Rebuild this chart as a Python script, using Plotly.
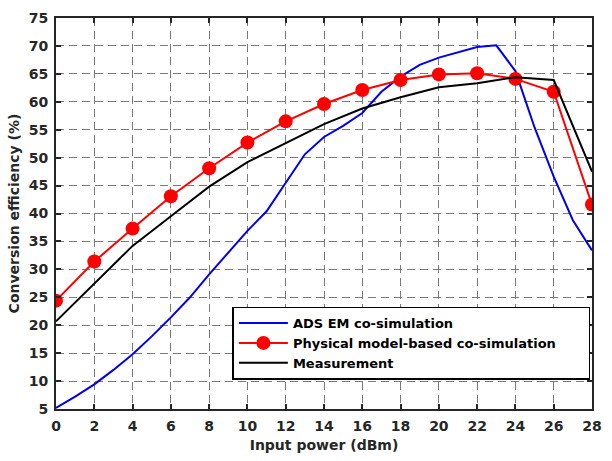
import plotly.graph_objects as go

x_blue = list(range(0, 29))
y_blue = [5.2, 7.2, 9.4, 12.0, 14.8, 18.0, 21.4, 25.0, 29.1, 33.0, 36.9, 40.4, 45.4, 50.6,
          53.7, 55.7, 58.0, 61.8, 64.5, 66.6, 67.9, 68.9, 69.8, 70.1, 65.5, 55.4, 46.6, 38.8, 33.4]

x_even = list(range(0, 29, 2))
y_red = [24.4, 31.4, 37.3, 43.1, 48.1, 52.7, 56.5, 59.6, 62.1, 63.9, 64.9, 65.1, 64.1, 61.8, 41.6]
y_black = [20.7, 27.5, 34.2, 39.5, 44.8, 49.2, 52.6, 56.0, 58.8, 60.8, 62.6, 63.3, 64.4, 63.9, 47.5]

x_ticks = list(range(0, 29, 2))
y_ticks = list(range(5, 76, 5))

names = ["ADS EM co-simulation", "Physical model-based co-simulation", "Measurement"]

FONT = "DejaVu Sans, sans-serif"
PAD = "\u00a0" * 6

fig = go.Figure()
fig.add_trace(go.Scatter(x=x_blue, y=y_blue, mode="lines", name=names[0],
                         line=dict(color="#0000ee", width=2)))
fig.add_trace(go.Scatter(x=x_even, y=y_red, mode="lines+markers", name=names[1] + PAD,
                         line=dict(color="#ff0000", width=2),
                         marker=dict(symbol="circle", size=14, color="#ff0000")))
fig.add_trace(go.Scatter(x=x_even, y=y_black, mode="lines", name=names[2],
                         line=dict(color="#000000", width=2)))

axis_common = dict(
    showgrid=True, gridcolor="#7a7a7a", gridwidth=1, griddash="8px,5px",
    showline=True, linecolor="#262626", linewidth=2, mirror="ticks",
    ticks="inside", ticklen=5, tickwidth=1.5, tickcolor="#262626",
    zeroline=False, ticklabelstandoff=3,
    tickfont=dict(family=FONT, size=14, color="#262626", weight="bold"),
)

fig.update_xaxes(range=[0, 28], tickvals=x_ticks, **axis_common,
                 title=dict(text="Input power (dBm)", standoff=7,
                            font=dict(family=FONT, size=14, color="#262626", weight="bold")))
fig.update_yaxes(range=[5, 75], tickvals=y_ticks, **axis_common,
                 title=dict(text="Conversion efficiency (%)", standoff=6,
                            font=dict(family=FONT, size=14, color="#262626", weight="bold")))

fig.update_layout(
    width=612, height=461,
    margin=dict(l=56, r=10, t=12, b=52),
    paper_bgcolor="white", plot_bgcolor="white",
    showlegend=True,
    legend=dict(x=0.997, xanchor="right", y=0.262, yanchor="top",
                bgcolor="white", bordercolor="#000000", borderwidth=1.5,
                font=dict(family=FONT, size=13, color="#000000", weight="bold"),
                itemwidth=49, tracegroupgap=0),
)

fig.write_html("out.html")
